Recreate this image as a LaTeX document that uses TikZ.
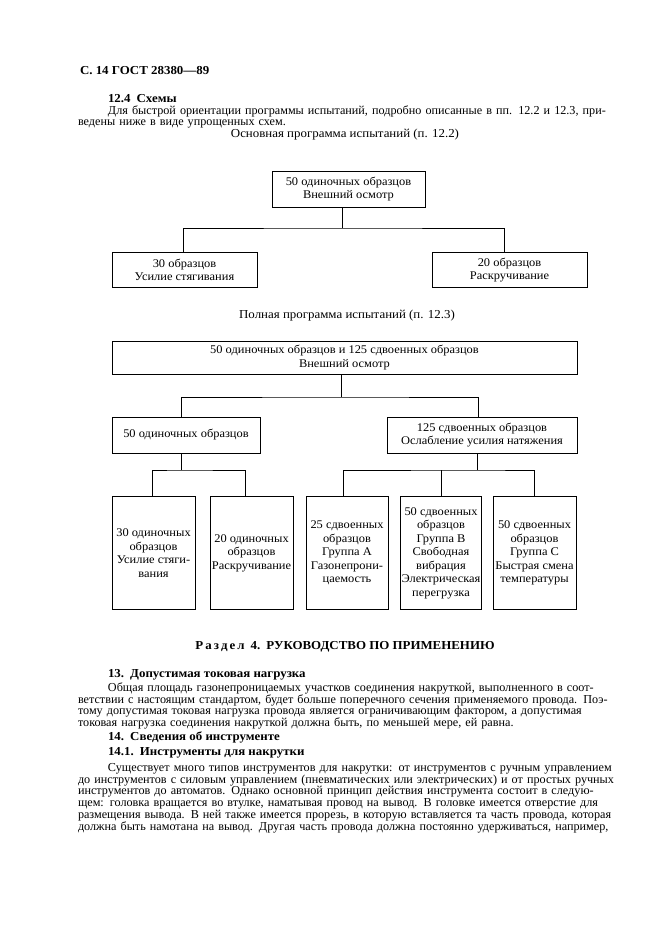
\documentclass[tikz,border=0pt]{standalone}
\usepackage{fontspec}
\setmainfont{Liberation Serif}[FakeStretch=1.06]
\newfontfamily\parafont{Liberation Serif}
\usetikzlibrary{positioning}
\newlength\pxu
\setlength\pxu{0.3175mm}
\newcommand\bodysize{\fontsize{11}{10.6}\selectfont}
\newcommand\parasize{\parafont\fontsize{11}{10.6}\selectfont\spaceskip=0.2em plus 0.6em minus 0.1em}
\newcommand\boxsize{\fontsize{10.6}{12.2}\selectfont}
\newcommand\fullline[1]{\makebox[\linewidth][s]{#1}\\}
\tikzset{
  every node/.style={inner sep=0pt,outer sep=0pt},
  blk/.style={draw,line width=0.8pt,align=center,font=\boxsize,inner xsep=1pt},
  link/.style={line width=0.8pt},
  head/.style={font=\bodysize\bfseries,anchor=base west},
  captxt/.style={font=\bodysize,anchor=base},
  para/.style={font=\parasize,anchor=base west,text width=530\pxu,align=left}
}
\begin{document}
\begin{tikzpicture}[x=\pxu,y=-\pxu]
  \path[use as bounding box,fill=white] (0,0) rectangle (661,936);
  \node[head] (hdr) at (80,74) {С. 14 ГОСТ 28380—89};
  \node[head] (h124) at (108,102.5) {12.4\enspace Схемы};
  \node[para] (p1) at (78,114) {\fullline{\hspace*{30\pxu}Для быстрой ориентации программы испытаний, подробно описанные в пп. 12.2 и 12.3, при-}ведены ниже в виде упрощенных схем.};
  \node[captxt] (cap1) at (345,137) {Основная программа испытаний (п. 12.2)};
  \node[blk,minimum width=153\pxu,minimum height=36\pxu] (b1) at (348.5,189) {50 одиночных образцов\\Внешний осмотр};
  \node[blk,minimum width=145\pxu,minimum height=35\pxu] (b2) at (184.5,270) {30 образцов\\Усилие стягивания};
  \node[blk,minimum width=155\pxu,minimum height=35\pxu] (b3) at (509.5,270) {20 образцов\\Раскручивание};
  \coordinate (bar1) at (342,228);
  \draw[link] (b1.south -| bar1) -- (bar1);
  \draw[link] ([xshift=-1.5\pxu]b2.north) |- (bar1) -| ([xshift=-5.5\pxu]b3.north);
  \node[captxt] (cap2) at (347,318) {Полная программа испытаний (п. 12.3)};
  \node[blk,minimum width=465\pxu,minimum height=33\pxu] (all) at (344.5,357.5) {50 одиночных образцов и 125 сдвоенных образцов\\Внешний осмотр};
  \node[blk,minimum width=148\pxu,minimum height=36\pxu] (sgl) at (186,435) {50 одиночных образцов};
  \node[blk,minimum width=190\pxu,minimum height=36\pxu] (dbl) at (482,435) {125 сдвоенных образцов\\Ослабление усилия натяжения};
  \coordinate (bar2) at (341,397);
  \coordinate (bar3) at (181,470);
  \coordinate (bar4) at (477,470);
  \draw[link] (all.south -| bar2) -- (bar2);
  \draw[link] ([xshift=-5\pxu]sgl.north) |- (bar2) -| ([xshift=-4\pxu]dbl.north);
  \draw[link] (sgl.south -| bar3) -- (bar3);
  \draw[link] (dbl.south -| bar4) -- (bar4);
  \foreach \n/\x/\w/\txt in {sa/153.5/83/{30 одиночных\\образцов\\Усилие стяги-\\вания},sb/251.5/83/{20 одиночных\\образцов\\Раскручивание},sc/347/82/{25 сдвоенных\\образцов\\Группа А\\Газонепрони-\\цаемость},sd/441/80/{50 сдвоенных\\образцов\\Группа В\\Свободная\\вибрация\\Электрическая\\перегрузка},se/534.5/83/{50 сдвоенных\\образцов\\Группа С\\Быстрая смена\\температуры}}{\node[blk,minimum width=\w\pxu,minimum height=113\pxu] (\n) at (\x,553) {\txt};}
  \draw[link] ([xshift=-1.5\pxu]sa.north) |- (bar3) -| ([xshift=-6.5\pxu]sb.north);
  \draw[link] ([xshift=-4\pxu]sc.north) |- (bar4) -| (se.north);
  \draw[link] (sd.north) -- (sd.north |- bar4);
  \node[font=\bodysize\bfseries,anchor=base] (sec) at (345,649) {Р\,а\,з\,д\,е\,л\enspace 4.\enspace РУКОВОДСТВО ПО ПРИМЕНЕНИЮ};
  \node[head] (h13) at (108,677) {13.\enspace Допустимая токовая нагрузка};
  \node[para] (p2) at (78,691.5) {\fullline{\hspace*{30\pxu}Общая площадь газонепроницаемых участков соединения накруткой, выполненного в соот-}\fullline{ветствии с настоящим стандартом, будет больше поперечного сечения применяемого провода. Поэ-}\fullline{тому допустимая токовая нагрузка провода является ограничивающим фактором, а допустимая}токовая нагрузка соединения накруткой должна быть, по меньшей мере, ей равна.};
  \node[head] (h14) at (108,740) {14.\enspace Сведения об инструменте};
  \node[head] (h141) at (108,755) {14.1.\enspace Инструменты для накрутки};
  \node[para] (p3) at (78,771.5) {\fullline{\hspace*{30\pxu}Существует много типов инструментов для накрутки: от инструментов с ручным управлением}\fullline{до инструментов с силовым управлением (пневматических или электрических) и от простых ручных}\fullline{инструментов до автоматов. Однако основной принцип действия инструмента состоит в следую-}\fullline{щем: головка вращается во втулке, наматывая провод на вывод. В головке имеется отверстие для}\fullline{размещения вывода. В ней также имеется прорезь, в которую вставляется та часть провода, которая}\makebox[\linewidth][s]{должна быть намотана на вывод. Другая часть провода должна постоянно удерживаться, например,}};
\end{tikzpicture}
\end{document}
